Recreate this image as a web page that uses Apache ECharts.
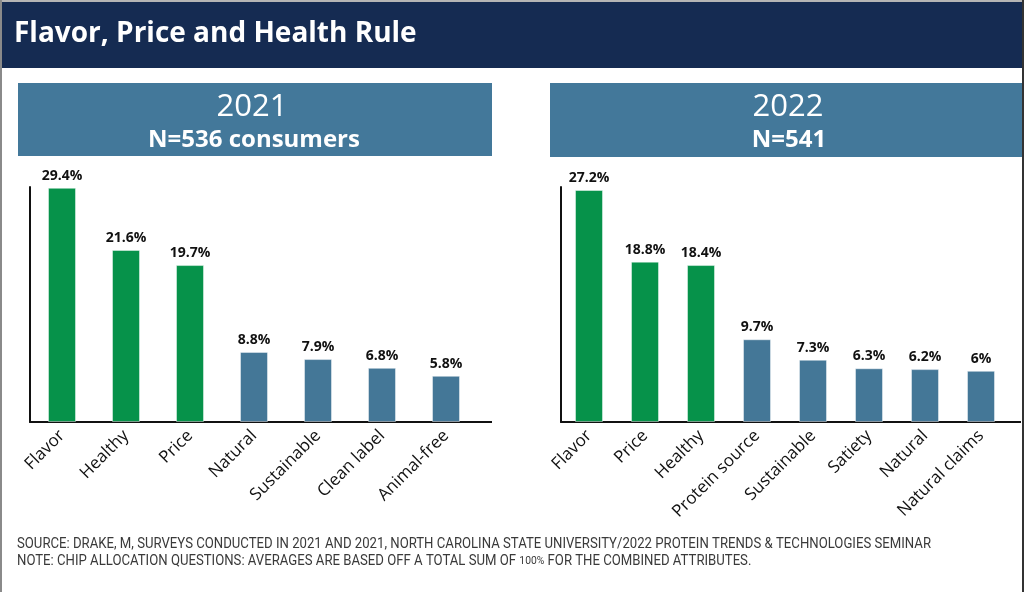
<!DOCTYPE html>
<html><head><meta charset="utf-8">
<script src="https://cdn.jsdelivr.net/npm/echarts@6/dist/echarts.min.js"></script>
<style>html,body{margin:0;padding:0;background:#fff}#c{width:1024px;height:592px}</style>
</head><body><div id="c"></div>
<script>
const mainTitle = 'Flavor, Price and Health Rule';
const heading2021 = ['2021', 'N=536 consumers'];
const heading2022 = ['2022', 'N=541'];
const categories2021 = ['Flavor', 'Healthy', 'Price', 'Natural', 'Sustainable', 'Clean label', 'Animal-free'];
const values2021 = [29.4, 21.6, 19.7, 8.8, 7.9, 6.8, 5.8];
const categories2022 = ['Flavor', 'Price', 'Healthy', 'Protein source', 'Sustainable', 'Satiety', 'Natural', 'Natural claims'];
const values2022 = [27.2, 18.8, 18.4, 9.7, 7.3, 6.3, 6.2, 6];
const topGroupSize = 3;
const sourceText = 'SOURCE: DRAKE, M, SURVEYS CONDUCTED IN 2021 AND 2021, NORTH CAROLINA STATE UNIVERSITY/2022 PROTEIN TRENDS & TECHNOLOGIES SEMINAR';
const notePre = 'NOTE: CHIP ALLOCATION QUESTIONS: AVERAGES ARE BASED OFF A TOTAL SUM OF ';
const noteSmall = '100%';
const notePost = ' FOR THE COMBINED ATTRIBUTES.';

const GREEN = '#06924A', BLUE = '#447797', NAVY = '#152B52', BOX = '#43789A';

const cv = document.createElement('canvas').getContext('2d');
cv.font = '14px Roboto';
const srcW = cv.measureText(sourceText).width;
const footScale = 914 / srcW;

const chart = echarts.init(document.getElementById('c'), null, {renderer: 'canvas'});

function barSeries(idx, vals) {
  return {
    type: 'bar', xAxisIndex: idx, yAxisIndex: idx,
    barWidth: 28,
    data: vals.map((v, i) => ({value: v, itemStyle: {color: i < topGroupSize ? GREEN : BLUE}})),
    itemStyle: {borderColor: 'rgba(255,255,255,0.45)', borderWidth: 1},
    label: {show: true, position: 'top', distance: 5, formatter: '{c}%',
      fontFamily: 'Open Sans', fontWeight: 'bold', fontSize: 14, color: '#111'},
    silent: true
  };
}
function xAx(idx, cats) {
  return {
    type: 'category', gridIndex: idx, data: cats,
    axisLine: {lineStyle: {color: '#111', width: 2}},
    axisTick: {show: false},
    axisLabel: {rotate: 45, interval: 0, margin: 11, fontFamily: 'Open Sans', fontSize: 17, color: '#111'}
  };
}
function yAx(idx, max) {
  return {
    type: 'value', gridIndex: idx, min: 0, max: max,
    axisLine: {show: true, lineStyle: {color: '#111', width: 2}},
    axisTick: {show: false}, axisLabel: {show: false}, splitLine: {show: false}
  };
}

chart.setOption({
  animation: false,
  backgroundColor: '#fff',
  grid: [
    {left: 30, width: 448, top: 187, height: 235},
    {left: 561, width: 448, top: 187, height: 235}
  ],
  xAxis: [xAx(0, categories2021), xAx(1, categories2022)],
  yAxis: [yAx(0, 29.5), yAx(1, 27.55)],
  series: [barSeries(0, values2021), barSeries(1, values2022)],
  graphic: [
    {type: 'rect', shape: {x: 0, y: 0, width: 1024, height: 2}, style: {fill: '#b5b5b5'}, z: 1},
    {type: 'rect', shape: {x: 0, y: 2, width: 1022, height: 66}, style: {fill: NAVY}, z: 1},
    {type: 'rect', shape: {x: 0, y: 0, width: 2, height: 592}, style: {fill: '#8a8a8a'}, z: 2},
    {type: 'rect', shape: {x: 1022, y: 0, width: 2, height: 592}, style: {fill: '#333'}, z: 2},
    {type: 'text', x: 14, y: 34, style: {text: mainTitle, fill: '#fff', font: 'bold 28px "Open Sans"', textVerticalAlign: 'middle'}, z: 3},
    {type: 'rect', shape: {x: 18, y: 83, width: 474, height: 73}, style: {fill: BOX}, z: 1},
    {type: 'rect', shape: {x: 550, y: 83, width: 472, height: 74}, style: {fill: BOX}, z: 1},
    {type: 'text', x: 252, y: 107.5, style: {text: heading2021[0], fill: '#fff', font: '31px "Open Sans"', textAlign: 'center', textVerticalAlign: 'middle'}, z: 3},
    {type: 'text', x: 254, y: 140, style: {text: heading2021[1], fill: '#fff', font: 'bold 24px "Open Sans"', textAlign: 'center', textVerticalAlign: 'middle'}, z: 3},
    {type: 'text', x: 788, y: 107.5, style: {text: heading2022[0], fill: '#fff', font: '31px "Open Sans"', textAlign: 'center', textVerticalAlign: 'middle'}, z: 3},
    {type: 'text', x: 789, y: 140, style: {text: heading2022[1], fill: '#fff', font: 'bold 24px "Open Sans"', textAlign: 'center', textVerticalAlign: 'middle'}, z: 3},
    {type: 'rect', shape: {x: 477, y: 421, width: 15, height: 2}, style: {fill: '#111'}, z: 3},
    {type: 'rect', shape: {x: 1008, y: 421, width: 13, height: 2}, style: {fill: '#111'}, z: 3},
    {type: 'text', x: 17, y: 544, scaleX: footScale, style: {text: sourceText, fill: '#3a3a3a', font: '14px Roboto', textVerticalAlign: 'middle'}, z: 3},
    {type: 'text', x: 17, y: 561.5, scaleX: footScale, style: {text: notePre + '{s|' + noteSmall + '}' + notePost, fill: '#3a3a3a', font: '14px Roboto', textVerticalAlign: 'middle',
      rich: {s: {fontSize: 11, fontFamily: 'Roboto', fill: '#3a3a3a'}}}, z: 3}
  ]
});
</script></body></html>
